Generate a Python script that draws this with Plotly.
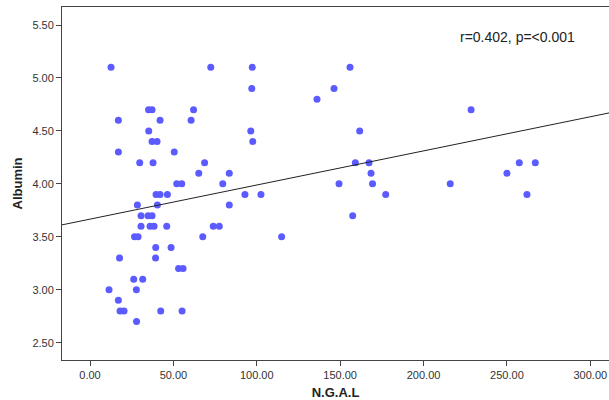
import numpy as np
import plotly.graph_objects as go

ngal = [
    12.6, 72.4, 97.3, 155.9,
    97.0, 146.3,
    136.1,
    35.1, 37.2, 62.1, 228.5,
    17.0, 42.0, 60.6,
    35.2, 96.4, 161.7,
    37.2, 40.2, 97.6,
    17.0, 50.5,
    29.8, 37.8, 68.7, 159.1, 167.3, 257.4, 267.0,
    65.2, 83.5, 168.5, 250.0,
    52.0, 55.0, 79.6, 149.3, 169.4, 216.0,
    39.6, 42.0, 46.4, 92.9, 102.5, 177.3, 262.0,
    28.4, 40.4, 83.5,
    30.6, 34.8, 37.2, 157.5,
    30.6, 36.0, 38.4, 46.0, 73.9, 77.5,
    26.7, 28.8, 67.6, 114.9,
    39.4, 48.6,
    17.7, 39.3,
    53.1, 55.8,
    26.2, 31.6,
    11.4, 27.8,
    17.0,
    18.0, 20.4, 42.4, 55.2,
    27.9,
]
albumin = (
    [5.1] * 4 + [4.9] * 2 + [4.8] * 1 + [4.7] * 4 + [4.6] * 3 + [4.5] * 3 +
    [4.4] * 3 + [4.3] * 2 + [4.2] * 7 + [4.1] * 4 + [4.0] * 6 + [3.9] * 7 +
    [3.8] * 3 + [3.7] * 4 + [3.6] * 6 + [3.5] * 4 + [3.4] * 2 + [3.3] * 2 +
    [3.2] * 2 + [3.1] * 2 + [3.0] * 2 + [2.9] * 1 + [2.8] * 4 + [2.7] * 1
)
# Linear fit line as drawn in the reference (intercept, slope)
fit_intercept = 3.667
fit_slope = 0.003222

x_ticks = [0, 50, 100, 150, 200, 250, 300]
y_ticks = [2.5, 3.0, 3.5, 4.0, 4.5, 5.0, 5.5]
stats_label = "r=0.402, p=<0.001"

x_range = [-16.8, 311.2]
y_range = [2.337, 5.67]

fit_x = np.array(x_range)
fit_y = fit_intercept + fit_slope * fit_x

font_family = "Arial, Liberation Sans, sans-serif"

fig = go.Figure()
fig.add_trace(go.Scatter(
    x=ngal, y=albumin, mode="markers",
    marker=dict(color="#5b5bff", size=7, line=dict(width=0)),
    showlegend=False, hoverinfo="x+y",
))
fig.add_trace(go.Scatter(
    x=fit_x, y=fit_y, mode="lines",
    line=dict(color="#222222", width=1),
    showlegend=False, hoverinfo="skip",
))

fig.update_layout(
    width=609, height=400,
    margin=dict(l=62, r=0, t=7, b=40),
    paper_bgcolor="white", plot_bgcolor="white",
    font=dict(family=font_family, size=11, color="#333333"),
    xaxis=dict(
        range=x_range, tickvals=x_ticks, tickformat=".2f",
        showgrid=False, zeroline=False, automargin=False,
        showline=True, linecolor="#444444", linewidth=1, mirror=True,
        ticks="outside", ticklen=5, tickcolor="#444444",
        title=dict(text="<b>N.G.A.L</b>", font=dict(size=13, color="#222222"), standoff=7),
    ),
    yaxis=dict(
        range=y_range, tickvals=y_ticks, tickformat=".2f",
        showgrid=False, zeroline=False, automargin=False,
        showline=True, linecolor="#444444", linewidth=1,
        ticks="outside", ticklen=5, tickcolor="#444444",
        title=dict(text="<b>Albumin</b>", font=dict(size=13, color="#222222"), standoff=6),
    ),
    annotations=[dict(
        text=stats_label, x=0.832, y=0.915, xref="paper", yref="paper",
        xanchor="center", yanchor="middle", showarrow=False,
        font=dict(size=14, color="#222222"),
    )],
)

fig.write_html(
    "out.html",
    config={"displayModeBar": False},
    post_script="document.body.style.margin='0';document.body.style.overflow='hidden';",
)
